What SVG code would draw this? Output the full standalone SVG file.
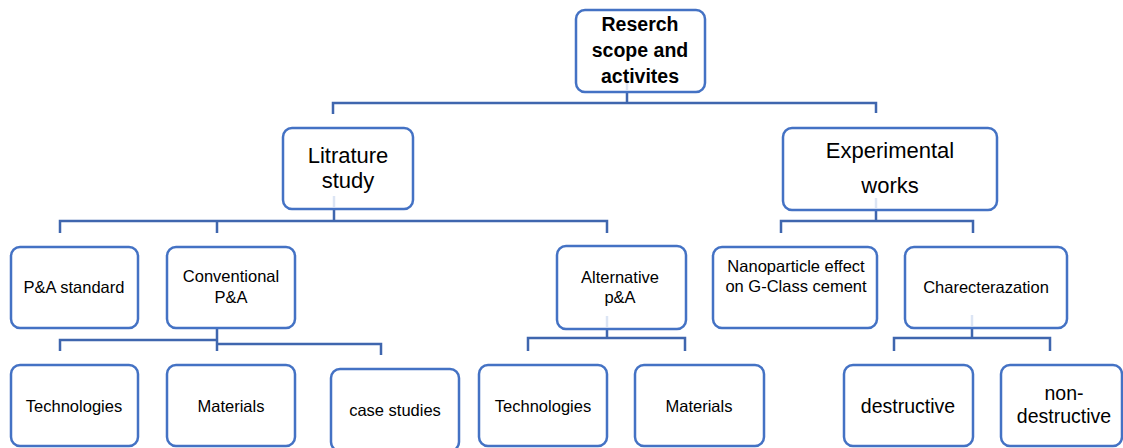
<svg xmlns="http://www.w3.org/2000/svg" width="1123" height="448" viewBox="0 0 1123 448">
<style>
.box{fill:#fff;stroke:#4472C4;stroke-width:2.5}
.con{fill:none;stroke:#3F66AE;stroke-width:2.5}
.ghost{fill:none;stroke:#DCE5F4;stroke-width:2.5}
text{font-family:"Liberation Sans",Arial,sans-serif;fill:#000;text-anchor:middle}
.s{font-size:16.5px}
.m{font-size:19.5px}
.l{font-size:22px}
.b{font-size:19.5px;font-weight:bold}
</style>
<rect width="1123" height="448" fill="#fff"/>
<g id="connectors">
<path class="con" d="M627 92V103M333 114V103H876V113"/>
<path class="con" d="M334 209V221M60 233V221H607V233M217 221V233"/>
<path class="con" d="M876 209V221M781 233V221H973V233"/>
<path class="con" d="M217 328V351M60 351V340H217M217 344H381V355"/>
<path class="con" d="M607 329V338M528 351V338H685V351"/>
<path class="con" d="M972 328V338M894 351V338H1050V351"/>
</g>
<g id="root"><rect class="box" x="576" y="10" width="129" height="82" rx="9"/>
<path class="ghost" d="M627 80V90"/>
<text class="b" x="640" y="31">Reserch</text><text class="b" x="640" y="57">scope and</text><text class="b" x="640" y="83">activites</text></g>
<g id="litrature"><rect class="box" x="283" y="128" width="130" height="81" rx="9"/>
<path class="ghost" d="M334 196V207"/>
<text class="l" x="348" y="163">Litrature</text><text class="l" x="348" y="188">study</text></g>
<g id="experimental"><rect class="box" x="783" y="128" width="214" height="82" rx="9"/>
<path class="ghost" d="M876 198V208"/>
<text class="l" x="890" y="158">Experimental</text><text class="l" x="890" y="193">works</text></g>
<g id="pa-standard"><rect class="box" x="11" y="247" width="127" height="81" rx="9"/>
<text class="s" x="74" y="293">P&amp;A standard</text></g>
<g id="conventional"><rect class="box" x="167" y="247" width="128" height="81" rx="9"/>
<text class="s" x="231" y="282">Conventional</text><text class="s" x="231" y="303">P&amp;A</text></g>
<g id="alternative"><rect class="box" x="557" y="246" width="129" height="83" rx="9"/>
<path class="ghost" d="M607 316V327"/>
<text class="s" x="620" y="283">Alternative</text><text class="s" x="620" y="303">p&amp;A</text></g>
<g id="nanoparticle"><rect class="box" x="713" y="247" width="164" height="81" rx="9"/>
<text class="s" x="796" y="272">Nanoparticle effect</text><text class="s" x="796" y="292">on G-Class cement</text></g>
<g id="charecterazation"><rect class="box" x="905" y="247" width="162" height="81" rx="9"/>
<path class="ghost" d="M972 315V326"/>
<text class="s" x="986" y="293">Charecterazation</text></g>
<g id="conv-technologies"><rect class="box" x="11" y="365" width="127" height="81" rx="9"/>
<text class="s" x="74" y="412">Technologies</text></g>
<g id="conv-materials"><rect class="box" x="167" y="365" width="128" height="81" rx="9"/>
<text class="s" x="231" y="412">Materials</text></g>
<g id="case-studies"><rect class="box" x="331" y="369" width="128" height="82" rx="9"/>
<text class="s" x="395" y="416">case studies</text></g>
<g id="alt-technologies"><rect class="box" x="479" y="365" width="128" height="81" rx="9"/>
<text class="s" x="543" y="412">Technologies</text></g>
<g id="alt-materials"><rect class="box" x="635" y="365" width="129" height="81" rx="9"/>
<text class="s" x="699" y="412">Materials</text></g>
<g id="destructive"><rect class="box" x="844" y="365" width="129" height="81" rx="9"/>
<text class="m" x="908" y="413">destructive</text></g>
<g id="non-destructive"><rect class="box" x="1001" y="365" width="121" height="81" rx="9"/>
<text class="m" x="1064" y="400">non-</text><text class="m" x="1064" y="423">destructive</text></g>
</svg>
